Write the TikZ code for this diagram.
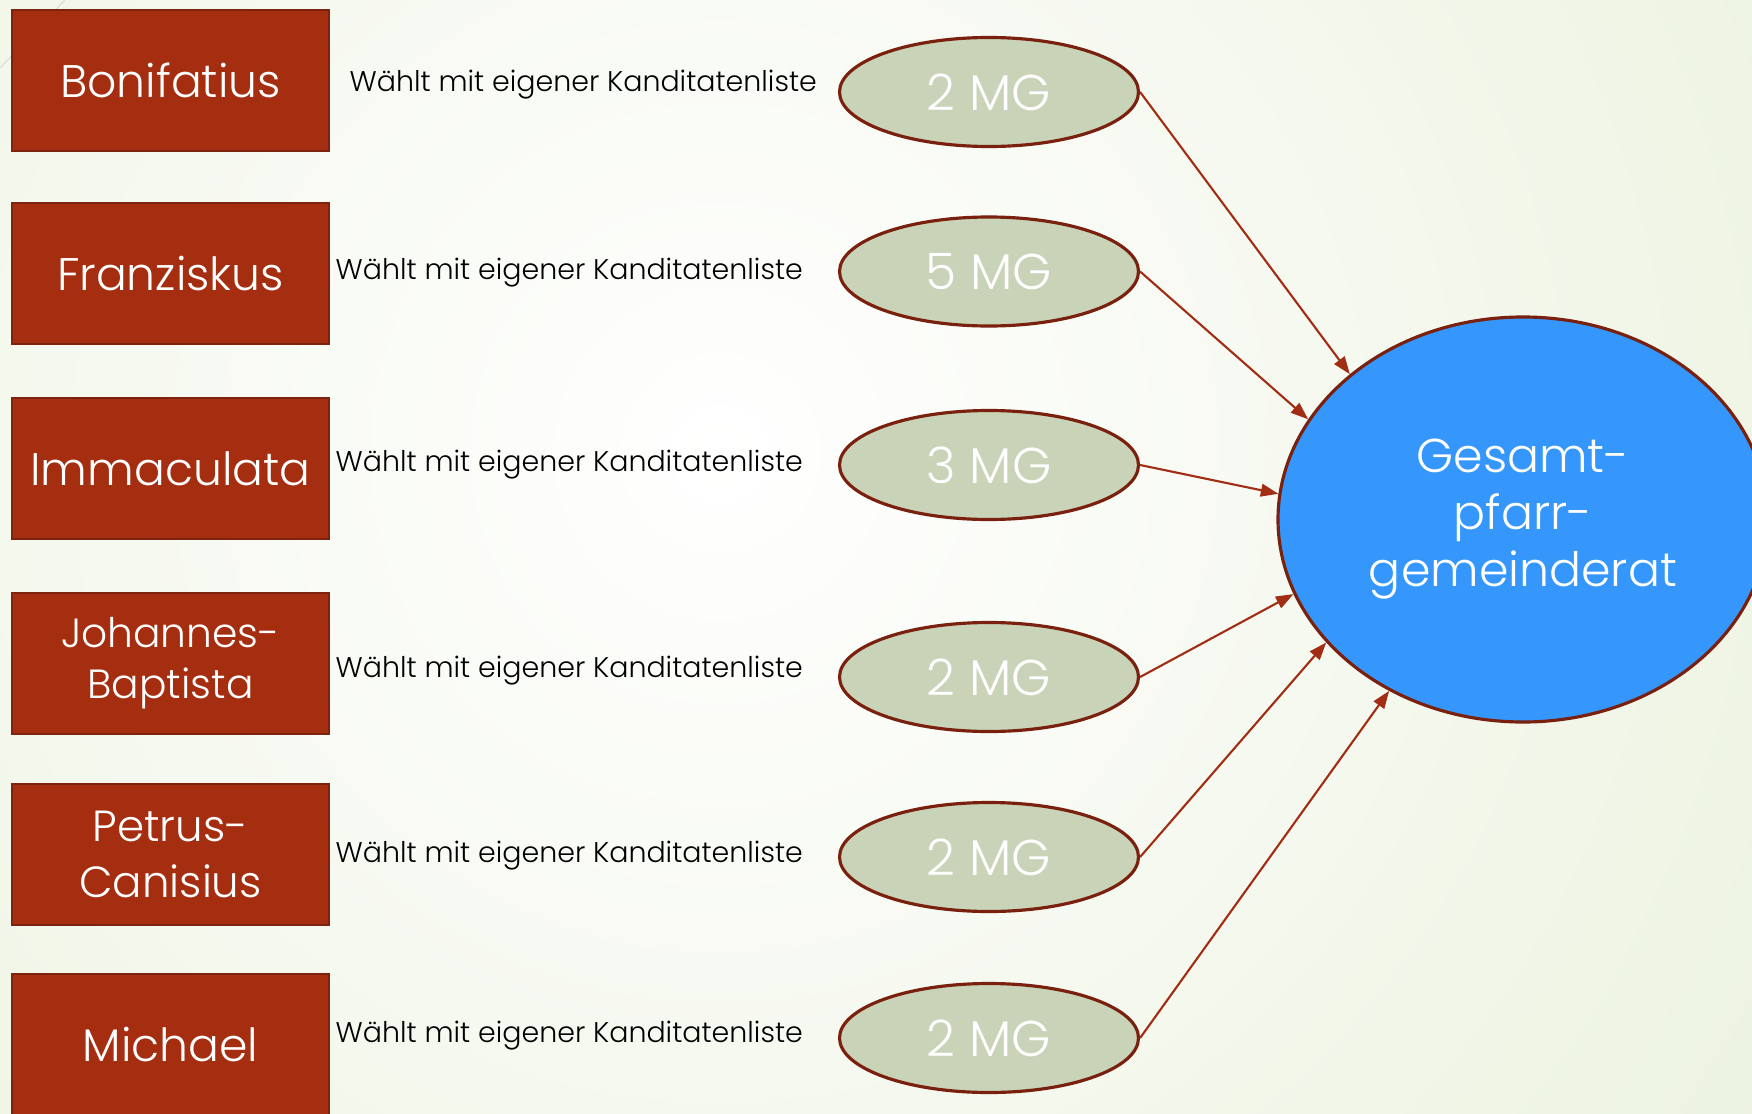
\documentclass[tikz,border=0pt]{standalone}
\usepackage{fontspec}
\setmainfont{Poppins Light}
\definecolor{parishred}{RGB}{165,46,16}
\definecolor{parishrim}{RGB}{125,35,15}
\definecolor{sage}{RGB}{200,211,183}
\definecolor{rimred}{RGB}{122,32,15}
\definecolor{councilblue}{RGB}{53,151,252}
\definecolor{arrowred}{RGB}{160,45,20}
\definecolor{slidegreen}{RGB}{222,233,200}
\usetikzlibrary{shapes.geometric,arrows.meta}

\begin{document}
\begin{tikzpicture}[
    parish/.style={draw=parishrim, line width=0.5pt, fill=parishred, text=white,
        minimum width=3.17cm, minimum height=1.41cm, inner sep=0pt, align=center,
        font=\fontsize{13}{15}\selectfont},
    seats/.style={ellipse, draw=rimred, line width=0.9pt, fill=sage, text=white,
        minimum width=2.99cm, minimum height=1.09cm, inner sep=0pt,
        font=\fontsize{14.3}{16}\selectfont},
    vote/.style={anchor=base west, inner sep=0pt, font=\fontsize{8.1}{9}\selectfont},
    feed/.style={-{Triangle[length=5pt,width=3.6pt]}, draw=arrowred, line width=0.6pt}
]
    % Background
    \useasboundingbox (0,0) rectangle (17.52,11.13);
    \begin{scope}
        \clip (0,0) rectangle (17.52,11.13);
        \shade[inner color=white, outer color=slidegreen] (7.2,6.6) circle (22);
        \draw[black!12, line width=0.4pt] (0,10.45) -- (0.65,11.13);
    \end{scope}

    % Parishes
    \node[parish] (bonifatius) at (1.705,10.325) {Bonifatius};
    \node[parish] (franziskus) at (1.705,8.395) {Franziskus};
    \node[parish] (immaculata) at (1.705,6.445) {Immaculata};
    \node[parish, font=\fontsize{11.6}{14.6}\selectfont] (johannes) at (1.705,4.495) {Johannes-\\Baptista};
    \node[parish, font=\fontsize{12.4}{15.8}\selectfont] (petrus) at (1.705,2.585) {Petrus-\\Canisius};
    \node[parish] (michael) at (1.705,0.685) {Michael};

    % Election mode
    \node[vote] (vote1) at (3.49,10.22) {Wählt mit eigener Kanditatenliste};
    \node[vote] (vote2) at (3.35,8.34) {Wählt mit eigener Kanditatenliste};
    \node[vote] (vote3) at (3.35,6.42) {Wählt mit eigener Kanditatenliste};
    \node[vote] (vote4) at (3.35,4.36) {Wählt mit eigener Kanditatenliste};
    \node[vote] (vote5) at (3.35,2.51) {Wählt mit eigener Kanditatenliste};
    \node[vote] (vote6) at (3.35,0.71) {Wählt mit eigener Kanditatenliste};

    % Seats
    \node[seats] (mg1) at (9.89,10.21) {2 MG};
    \node[seats] (mg2) at (9.89,8.415) {5 MG};
    \node[seats] (mg3) at (9.89,6.48) {3 MG};
    \node[seats] (mg4) at (9.89,4.36) {2 MG};
    \node[seats] (mg5) at (9.89,2.56) {2 MG};
    \node[seats] (mg6) at (9.89,0.75) {2 MG};

    % Council
    \node[ellipse, draw=rimred, line width=0.9pt, fill=councilblue, text=white,
        minimum width=4.9cm, minimum height=4.05cm, inner sep=0pt, align=center,
        font=\fontsize{13.5}{16.2}\selectfont] (gpr) at (15.23,5.935)
        {Gesamt-\\pfarr-\\gemeinderat};

    % Arrows
    \draw[feed] (mg1.east) -- (gpr.140);
    \draw[feed] (mg2.east) -- (gpr.155.5);
    \draw[feed] (mg3.east) -- (gpr.174.3);
    \draw[feed] (mg4.east) -- (gpr.198.1);
    \draw[feed] (mg5.east) -- (gpr.212);
    \draw[feed] (mg6.east) -- (gpr.232.5);
\end{tikzpicture}
\end{document}
